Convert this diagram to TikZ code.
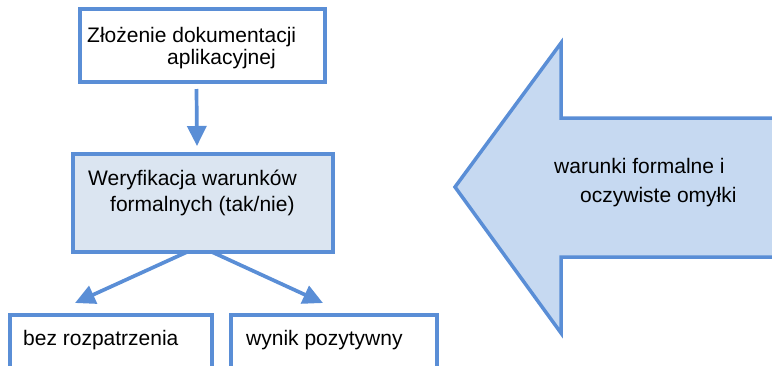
\documentclass[tikz,border=0pt]{standalone}
\usepackage{fontspec}
\setmainfont{Liberation Sans}
\usepackage{tikz}
\usetikzlibrary{positioning,arrows.meta,calc}
\definecolor{line500}{HTML}{5A8ED6}
\definecolor{fill200}{HTML}{C6D9F1}
\definecolor{fill100}{HTML}{DBE5F1}
\tikzset{
  box/.style   ={draw=line500, line width=3.5pt, fill=white,
                 inner sep=0pt, outer sep=0pt},
  boxf/.style  ={box, fill=fill100},
  txt/.style   ={font=\fontsize{21}{24}\selectfont, inner sep=0pt,
                 anchor=base west},
  ar/.style    ={-{Triangle[length=20pt,width=19pt]}, draw=line500,
                 line width=3.7pt}
}

\begin{document}
\begin{tikzpicture}[x=1pt,y=-1pt]
\useasboundingbox (0,0) rectangle (772,365);
\clip (0,0) rectangle (772,365);

\node[box, minimum width=245pt, minimum height=73pt] (zlozenie) at (202.5,45.5) {};
\node[txt] (zlozenieA) at (87,42) {Złożenie dokumentacji};
\node[txt] (zlozenieB) at (167,64) {aplikacyjnej};

\node[boxf, minimum width=260pt, minimum height=98pt] (weryf) at (203,203) {};
\node[txt] (weryfA) at (88,185) {Weryfikacja warunków};
\node[txt] (weryfB) at (110,211) {formalnych (tak/nie)};

% the lower boxes run on past the bottom edge
\node[box, minimum width=202pt, minimum height=80pt, anchor=north west] (bez) at (10,315) {};
\node[txt] (bezA) at (23,345) {bez rozpatrzenia};
\node[box, minimum width=206pt, minimum height=80pt, anchor=north west] (wynik) at (231,315) {};
\node[txt] (wynikA) at (246,345) {wynik pozytywny};

\coordinate (downA) at ([xshift=-6pt,yshift=-7pt]zlozenie.south);
\coordinate (downB) at ([xshift=-6pt,yshift=8pt]weryf.north);
\draw[ar] (downA) -- (downB);
\coordinate (leftA) at ([xshift=-16pt]weryf.south);
\coordinate (leftB) at (75,303);
\coordinate (rightA) at ([xshift=9pt]weryf.south);
\coordinate (rightB) at (323,303);
\draw[ar] (leftA) -- (leftB);
\draw[ar] (rightA) -- (rightB);

% big block arrow, its tail cut by the right edge
\draw[draw=line500, fill=fill200, line width=3.5pt, miter limit=10]
  (455,187) -- (561,43) -- (561,118) -- (790,118) -- (790,257)
  -- (561,257) -- (561,333) -- cycle;
\node[txt] (warunkiA) at (554,173) {warunki formalne i};
\node[txt] (warunkiB) at (580,202) {oczywiste omyłki};
\end{tikzpicture}
\end{document}
